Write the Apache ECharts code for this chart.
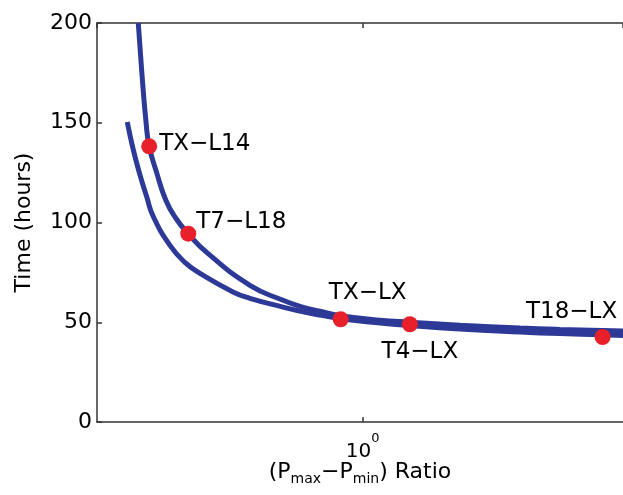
<!DOCTYPE html>
<html>
<head>
<meta charset="utf-8">
<script src="https://cdn.jsdelivr.net/npm/echarts@6/dist/echarts.min.js"></script>
<style>
html,body{margin:0;padding:0;background:#fff;}
#chart{width:623px;height:495px;}
</style>
</head>
<body>
<div id="chart"></div>
<script>
// Upper (steeper) curve
const upperX = [0.4612, 0.4667, 0.4735, 0.4789, 0.4914, 0.5074, 0.5253, 0.5479, 0.5839, 0.6779, 0.7598, 0.8056, 0.8630, 0.9270, 1.0615, 1.1773, 1.3986, 1.7205, 1.975, 2.288, 2.455];
const upperY = [200, 176, 151, 138.2, 125, 111, 102, 94.4, 85, 68.5, 61, 58, 55.5, 53.3, 51, 50, 48.5, 47.1, 46.4, 45.9, 45.6];
// Lower curve
const lowerX = [0.4440, 0.4533, 0.4638, 0.4747, 0.4857, 0.5145, 0.5417, 0.5705, 0.6394, 0.6779, 0.7598, 0.8056, 0.8630, 0.9270, 1.0615, 1.1773, 1.3986, 1.7205, 1.975, 2.288, 2.455];
const lowerY = [150.4, 136.5, 124, 113, 103, 88.5, 80, 74.5, 65.2, 62, 57.6, 55.6, 53.6, 51.8, 49.6, 48.3, 46.6, 45.1, 44.3, 43.7, 43.4];
// Labelled experiments
const pointNames = ['TX\u2212L14', 'T7\u2212L18', 'TX\u2212LX', 'T4\u2212LX', 'T18\u2212LX'];
const pointX = [0.4789, 0.548, 0.927, 1.177, 2.288];
const pointY = [138.2, 94.4, 51.5, 49.0, 42.6];
// Axis ticks
const yTicks = [0, 50, 100, 150, 200];
const xRange = [0.4, 2.455];

const FONT = 'DejaVu Sans';
const labelOffsets = [
  {align: 'left', offset: [10, -2]},
  {align: 'left', offset: [8, -12]},
  {align: 'center', offset: [27, -26]},
  {align: 'center', offset: [10, 28]},
  {align: 'center', offset: [-31, -25]}
];

const zip = (xs, ys) => xs.map((x, i) => [x, ys[i]]);
const lineColor = '#2d3996';
const axisCol = '#333';

const chart = echarts.init(document.getElementById('chart'), null, {renderer: 'canvas'});
const option = {
  animation: false,
  backgroundColor: '#fff',
  grid: {left: 97, right: 0, top: 23, bottom: 73, containLabel: false, outerBoundsMode: 'none'},
  xAxis: [{
    type: 'log', logBase: 10, min: xRange[0], max: xRange[1], position: 'bottom',
    axisLine: {show: true, lineStyle: {color: axisCol, width: 1.5}},
    axisTick: {show: true, inside: true, length: 5, lineStyle: {color: axisCol, width: 1.5}},
    splitLine: {show: false}, minorTick: {show: false},
    axisLabel: {
      showMinLabel: false, showMaxLabel: false, margin: 10,
      formatter: v => Math.abs(v - 1) < 1e-6 ? '{a|10}{b|0}' : '',
      rich: {
        a: {fontFamily: FONT, fontSize: 20, color: '#000', verticalAlign: 'bottom', lineHeight: 30},
        b: {fontFamily: FONT, fontSize: 13, color: '#000', verticalAlign: 'top', lineHeight: 30}
      }
    },
    name: '(P{s|max}\u2212P{s|min}) Ratio',
    nameLocation: 'middle', nameGap: 36, nameMoveOverlap: false,
    nameTextStyle: {
      fontFamily: FONT, fontSize: 22, color: '#000',
      rich: {s: {fontFamily: FONT, fontSize: 14, color: '#000', verticalAlign: 'bottom', padding: [14, 0, 0, 0]}}
    }
  }, {
    type: 'log', logBase: 10, min: xRange[0], max: xRange[1], position: 'top',
    axisLine: {show: true, onZero: false, lineStyle: {color: axisCol, width: 1.5}},
    axisTick: {show: true, inside: true, length: 5, lineStyle: {color: axisCol, width: 1.5}},
    axisLabel: {show: false}, splitLine: {show: false}
  }],
  yAxis: [{
    type: 'value', min: yTicks[0], max: yTicks[yTicks.length - 1], interval: 50,
    axisLine: {show: true, lineStyle: {color: axisCol, width: 1.5}},
    axisTick: {show: true, inside: true, length: 5, lineStyle: {color: axisCol, width: 1.5}},
    splitLine: {show: false},
    axisLabel: {fontFamily: FONT, fontSize: 22, color: '#000', margin: 5},
    name: 'Time (hours)', nameLocation: 'middle', nameGap: 62, nameMoveOverlap: false,
    nameTextStyle: {fontFamily: FONT, fontSize: 22, color: '#000'}
  }],
  series: [
    {type: 'line', data: zip(upperX, upperY), showSymbol: false, smooth: 0.5,
     lineStyle: {color: lineColor, width: 5}, z: 2, clip: true},
    {type: 'line', data: zip(lowerX, lowerY), showSymbol: false, smooth: 0.5,
     lineStyle: {color: lineColor, width: 5}, z: 2, clip: true},
    {type: 'scatter', symbolSize: 16, itemStyle: {color: '#e8202a', opacity: 1}, z: 5,
     data: pointNames.map((n, i) => ({
       value: [pointX[i], pointY[i]], name: n,
       label: {show: true, position: 'inside', formatter: n, fontFamily: FONT, fontSize: 23, color: '#000',
               align: labelOffsets[i].align, verticalAlign: 'middle', offset: labelOffsets[i].offset}
     }))}
  ]
};
chart.setOption(option);
</script>
</body>
</html>
